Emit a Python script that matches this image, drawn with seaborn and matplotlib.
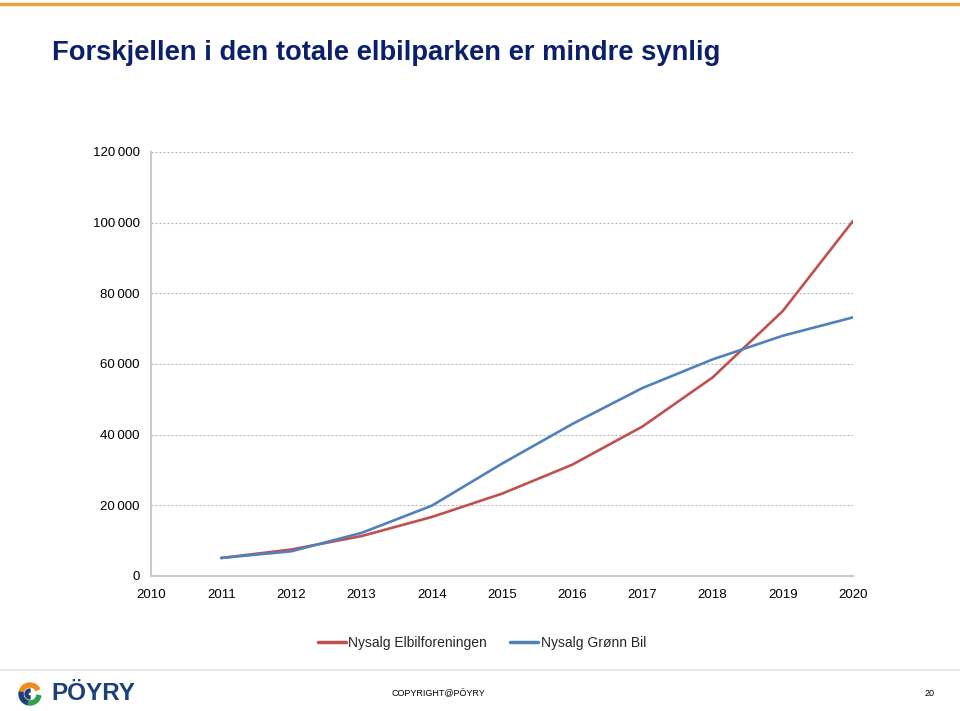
import matplotlib
matplotlib.use("Agg")
import matplotlib.pyplot as plt
import seaborn as sns
import pandas as pd
from matplotlib.patches import Wedge
from matplotlib.lines import Line2D

years = [2011, 2012, 2013, 2014, 2015, 2016, 2017, 2018, 2019, 2020]
elbilforeningen = [5100, 7500, 11300, 16700, 23300, 31500, 42300, 56200, 75000, 100500]
gronn_bil = [5100, 7000, 12200, 19900, 31800, 43000, 53200, 61300, 68000, 73200]
series_names = ["Nysalg Elbilforeningen", "Nysalg Grønn Bil"]
series_colors = ["#C0504D", "#4F81BD"]
x_ticks = list(range(2010, 2021))
y_ticks = [0, 20000, 40000, 60000, 80000, 100000, 120000]

df = pd.DataFrame({
    "year": years * 2,
    "value": elbilforeningen + gronn_bil,
    "series": [series_names[0]] * len(years) + [series_names[1]] * len(years),
})

sns.set_theme(style="white")
plt.rcParams["font.family"] = ["Liberation Sans", "DejaVu Sans"]

fig = plt.figure(figsize=(9.6, 7.11), dpi=100)
ax = fig.add_axes([151 / 960, 1 - 576 / 711, (853 - 151) / 960, (576 - 152) / 711])

sns.lineplot(data=df, x="year", y="value", hue="series",
             palette=dict(zip(series_names, series_colors)),
             linewidth=1.9, ax=ax, legend=False)

ax.set_xlim(2010, 2020)
ax.set_ylim(0, 120000)
ax.set_xticks(x_ticks)
ax.set_yticks(y_ticks)
ax.set_xticklabels([str(t) for t in x_ticks], fontsize=9.5)
ax.set_yticklabels([f"{t:,}".replace(",", "\u2009") for t in y_ticks], fontsize=9.5)
ax.set_xlabel("")
ax.set_ylabel("")
for yv in y_ticks[1:]:
    ax.axhline(yv, color="#b3b3b3", linestyle=(0, (1.8, 1.8)), linewidth=0.8, zorder=0)
for s in ["top", "right"]:
    ax.spines[s].set_visible(False)
for s in ["left", "bottom"]:
    ax.spines[s].set_color("#c8c8c8")
    ax.spines[s].set_linewidth(1.5)
ax.tick_params(axis="both", which="major", length=4, width=1, color="#c8c8c8",
               direction="out", labelcolor="black", pad=4)
ax.tick_params(axis="x", pad=5)

handles = [Line2D([0], [0], color=c, linewidth=2.5) for c in series_colors]
fig.legend(handles, series_names, loc="center", bbox_to_anchor=(482 / 960, 1 - 643 / 711),
           ncol=2, frameon=False, fontsize=10, handlelength=2.0, handletextpad=0.2,
           columnspacing=1.65)

# Top accent line
fig.add_artist(Line2D([0.0, 1.0], [1 - 4 / 711, 1 - 4 / 711], color="#E8A33D",
                      linewidth=2.5, transform=fig.transFigure))

# Title
fig.text(52 / 960, 1 - 53 / 711, "Forskjellen i den totale elbilparken er mindre synlig",
         fontsize=19.7, fontweight="bold", color="#0B1F6B", va="center", ha="left",
         family=["Liberation Sans Narrow", "Liberation Sans", "DejaVu Sans"])

# Footer line
fig.add_artist(Line2D([0.0, 1.0], [1 - 670 / 711, 1 - 670 / 711], color="#e3e3e3",
                      linewidth=1.2, transform=fig.transFigure))

# Logo
fig.text(51 / 960, 1 - 694 / 711, "PÖYRY", fontsize=17.5, fontweight="bold",
         color="#1F3F7A", va="center", ha="left")
lax = fig.add_axes([15 / 960, 1 - 708 / 711, 30 / 960, 28 / 711])
lax.set_xlim(0, 30)
lax.set_ylim(0, 28)
lax.set_aspect("equal")
lax.axis("off")
lax.add_patch(Wedge((15, 14), 11, 30, 170, width=4, color="#F08A1C"))
lax.add_patch(Wedge((15, 14), 11, 170, 260, width=4, color="#1F3F7A"))
lax.add_patch(Wedge((15, 14), 11, 260, 350, width=4, color="#2EA04A"))
lax.add_patch(Wedge((15, 14), 5, 90, 270, width=3, color="#1F3F7A"))

fig.text(438 / 960, 1 - 694 / 711, "COPYRIGHT@PÖYRY", fontsize=6.5,
         color="black", va="center", ha="center")
fig.text(930 / 960, 1 - 694 / 711, "20", fontsize=6.5, color="black",
         va="center", ha="center")

fig.savefig("out.png", dpi=100)
